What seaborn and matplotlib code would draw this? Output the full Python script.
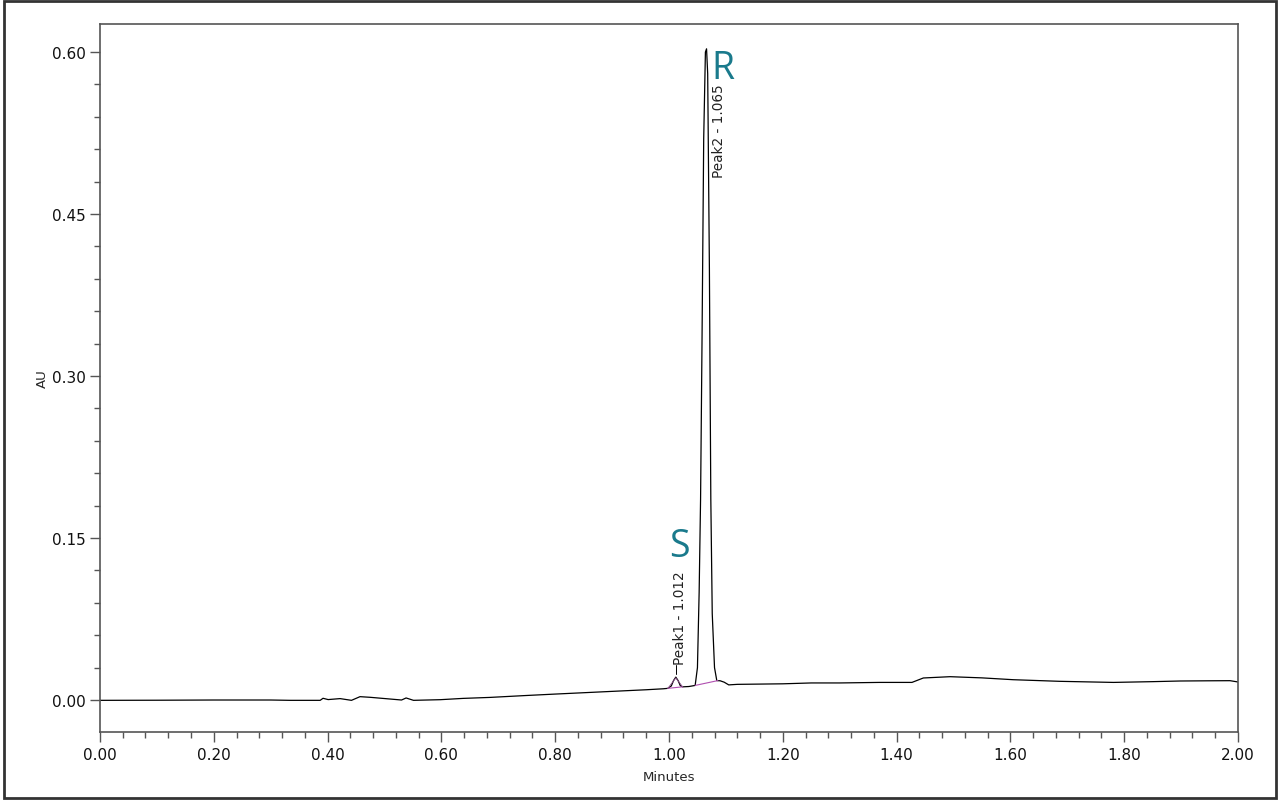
import numpy as np
import pandas as pd
import matplotlib.pyplot as plt
import seaborn as sns
from matplotlib.ticker import MultipleLocator, FormatStrFormatter
from matplotlib.patches import Rectangle

# chromatogram trace (minutes, AU)
minutes = [0.00, 0.10, 0.20, 0.30, 0.334, 0.387, 0.392, 0.401, 0.422, 0.442,
           0.457, 0.475, 0.530, 0.538, 0.551, 0.598, 0.638, 0.685, 0.75, 0.80,
           0.90, 0.96, 0.990, 0.998, 1.004, 1.008, 1.012, 1.016, 1.020, 1.024,
           1.035, 1.046, 1.050, 1.053, 1.0555, 1.058, 1.061, 1.064, 1.066, 1.068,
           1.071, 1.0735, 1.076, 1.080, 1.084, 1.090, 1.097, 1.105, 1.12, 1.20,
           1.25, 1.30, 1.37, 1.427, 1.447, 1.494, 1.55, 1.605, 1.687, 1.781,
           1.85, 1.898, 1.95, 1.986, 2.00]
au = [-0.0003, -0.0002, 0.0000, 0.0000, -0.0003, -0.0003, 0.0016, 0.0004, 0.0013, -0.0003,
      0.0031, 0.0025, 0.0000, 0.0019, -0.0003, 0.0003, 0.0015, 0.0024, 0.0042, 0.0055,
      0.0080, 0.0095, 0.0104, 0.0108, 0.0130, 0.0180, 0.0212, 0.0180, 0.0132, 0.0122,
      0.0125, 0.0135, 0.0300, 0.1000, 0.1860, 0.3300, 0.5200, 0.6000, 0.6030, 0.5800,
      0.4000, 0.1860, 0.0800, 0.0300, 0.0180, 0.0178, 0.0165, 0.0140, 0.0145, 0.0150,
      0.0158, 0.0158, 0.0163, 0.0163, 0.0204, 0.0216, 0.0205, 0.0188, 0.0173, 0.0163,
      0.0170, 0.0176, 0.0178, 0.0179, 0.0167]

# integration baselines (start, end) for each peak
peak_names = ["Peak1", "Peak2"]
peak_times = [1.012, 1.065]
base_t = [(0.998, 1.024), (1.046, 1.086)]
base_au = [(0.0108, 0.0122), (0.0135, 0.0180)]
enantiomers = ["S", "R"]

df = pd.DataFrame({"Minutes": minutes, "AU": au})

sns.set_style("ticks")
plt.rcParams["font.family"] = ["DejaVu Sans"]

fig = plt.figure(figsize=(12.8, 8.03), dpi=100)
ax = fig.add_axes([0.0781, 0.0872, 0.8891, 0.8817])

sns.lineplot(data=df, x="Minutes", y="AU", ax=ax, color="black", lw=0.9,
             estimator=None, sort=False)

# baselines in purple
for (t0, t1), (a0, a1) in zip(base_t, base_au):
    ax.plot([t0, t1], [a0, a1], color="#b04fb0", lw=0.8)
# little fan under peak 1
ax.plot([base_t[0][0], peak_times[0], base_t[0][1]],
        [base_au[0][0], 0.0205, base_au[0][1]], color="#8a4f8a", lw=0.6)
ax.plot([peak_times[0], peak_times[0]], [0.024, 0.032], color="black", lw=0.7)

# peak labels
ax.text(peak_times[0] + 0.007, 0.033, f"{peak_names[0]} - {peak_times[0]:.3f}",
        rotation=90, ha="center", va="bottom", fontsize=9.8, color="#222222")
ax.text(peak_times[1] + 0.023, 0.571, f"{peak_names[1]} - {peak_times[1]:.3f}",
        rotation=90, ha="center", va="top", fontsize=9.8, color="#222222")

# enantiomer letters
ax.text(1.0185, 0.143, enantiomers[0], ha="center", va="center", fontsize=27,
        color="#1a7a8c", family="Open Sans")
ax.text(1.0945, 0.585, enantiomers[1], ha="center", va="center", fontsize=27,
        color="#1a7a8c", family="Open Sans")

ax.set_xlim(0, 2.0)
ax.set_ylim(-0.0296, 0.626)
ax.xaxis.set_major_locator(MultipleLocator(0.2))
ax.xaxis.set_minor_locator(MultipleLocator(0.04))
ax.yaxis.set_major_locator(MultipleLocator(0.15))
ax.yaxis.set_minor_locator(MultipleLocator(0.03))
ax.xaxis.set_major_formatter(FormatStrFormatter("%.2f"))
ax.yaxis.set_major_formatter(FormatStrFormatter("%.2f"))
ax.tick_params(which="major", length=7, width=1, color="#555555",
               labelsize=11, labelcolor="#111111")
ax.tick_params(which="minor", length=4, width=1, color="#555555")
for s in ax.spines.values():
    s.set_color("#555555")
    s.set_linewidth(1.2)

ax.set_xlabel("Minutes", fontsize=9.5, labelpad=6)
ax.set_ylabel("AU", fontsize=9.5, labelpad=2)

# outer frame around the whole picture
fig.patches.append(Rectangle((0.003, 0.005), 0.994, 0.992, transform=fig.transFigure,
                             fill=False, edgecolor="#333333", lw=2))

fig.savefig("out.png", dpi=100)
